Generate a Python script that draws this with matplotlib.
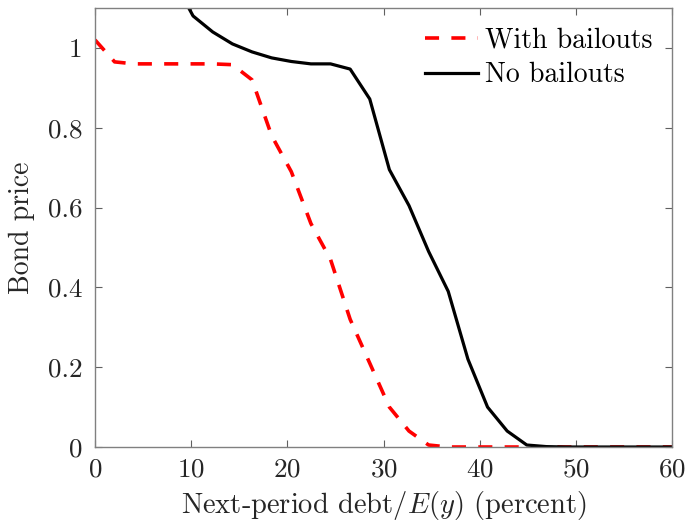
import matplotlib
matplotlib.use("Agg")
import matplotlib.pyplot as plt
from matplotlib.ticker import FuncFormatter

# Debt grid (percent of E(y)) and bond prices
debt_bailout = [0, 2.04, 4.08, 6.12, 8.16, 10.2, 12.24, 14.29, 16.33, 18.37,
                20.41, 22.45, 24.49, 26.53, 28.57, 30.61, 32.65, 34.69, 36.73, 60]
price_bailout = [1.02, 0.965, 0.96, 0.96, 0.96, 0.96, 0.96, 0.958, 0.92, 0.78,
                 0.69, 0.56, 0.47, 0.32, 0.21, 0.10, 0.04, 0.005, 0.0, 0.0]

debt_nobailout = [8.16, 10.2, 12.24, 14.29, 16.33, 18.37, 20.41, 22.45, 24.49,
                  26.53, 28.57, 30.61, 32.65, 34.69, 36.73, 38.78, 40.82, 42.86,
                  44.9, 46.94, 48.98, 60]
price_nobailout = [1.17, 1.08, 1.04, 1.01, 0.99, 0.975, 0.966, 0.96, 0.96,
                   0.947, 0.872, 0.695, 0.605, 0.49, 0.39, 0.22, 0.10, 0.04,
                   0.005, 0.001, 0.0, 0.0]

xticks = [0, 10, 20, 30, 40, 50, 60]
yticks = [0, 0.2, 0.4, 0.6, 0.8, 1.0]

plt.rcParams["font.family"] = "serif"
plt.rcParams["font.serif"] = ["cmr10"]
plt.rcParams["mathtext.fontset"] = "cm"
plt.rcParams["axes.unicode_minus"] = False
plt.rcParams["axes.formatter.use_mathtext"] = True


def draw_plot():
    fig = plt.figure(figsize=(6.91, 5.23), dpi=100)
    ax = fig.add_axes([0.1375, 0.1453, 0.835, 0.8394])

    ax.plot(debt_bailout, price_bailout, color="red", lw=2.6,
            linestyle=(0, (3.9, 3.4)), label="With bailouts")
    ax.plot(debt_nobailout, price_nobailout, color="black", lw=2.3,
            label="No bailouts")

    ax.set_xlim(0, 60)
    ax.set_ylim(0, 1.1)
    ax.set_xticks(xticks)
    ax.set_yticks(yticks)
    ax.yaxis.set_major_formatter(FuncFormatter(lambda v, p: "%g" % v))

    for s in ax.spines.values():
        s.set_color("#808080")
        s.set_linewidth(1.0)
    ax.tick_params(direction="in", length=5, width=0.8, color="#606060",
                   top=True, right=True, labelsize=19.5, labelcolor="#262626")
    ax.tick_params(axis="x", pad=8)
    ax.tick_params(axis="y", pad=9)

    ax.set_xlabel("Next-period debt/$E(y)$ (percent)", fontsize=20.5,
                  color="#262626", labelpad=5)
    ax.set_ylabel("Bond price", fontsize=20, color="#262626", labelpad=9)

    ax.legend(loc="upper right", frameon=False, fontsize=20,
              handlelength=1.9, handletextpad=0.25, labelspacing=0.3,
              borderaxespad=0.3)

    fig.savefig("out.png", dpi=100)


if __name__ == "__main__":
    draw_plot()
